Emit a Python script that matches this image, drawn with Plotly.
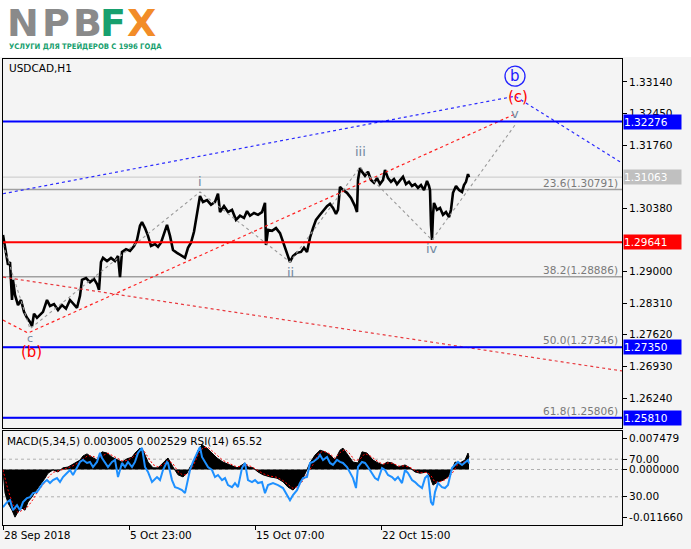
import plotly.graph_objects as go

# ---------------- data ----------------
price_bars = [0,1,3,5,7,9,10,12,15,18,21,24,27,29,31,34,37,40,44,47,51,55,59,63,67,71,74,77,79,83,87,91,94,96,98,100,104,108,112,115,117,119,123,127,131,134,137,139,142,145,148,152,155,158,161,164,167,170,174,178,182,185,188,191,194,197,200,204,208,212,215,217,221,225,229,233,237,241,244,247,251,255,259,262,263,265,269,273,277,281,284,287,290,294,298,301,304,307,310,313,317,321,324,327,330,333,335,337,340,344,348,352,354,355,357,359,362,365,368,371,374,377,380,382,385,388,391,394,397,400,403,406,409,412,415,418,421,424,426,427,428,429,430,431,434,437,440,443,446,448,450,453,456,459,461,463,465,466]
price_close = [1.2980,1.2963,1.2941,1.2915,1.2921,1.2838,1.2882,1.2849,1.2827,1.2838,1.2812,1.2799,1.2790,1.2781,1.2808,1.2799,1.2805,1.2812,1.2838,1.2825,1.2829,1.2816,1.2827,1.2819,1.2838,1.2829,1.2821,1.2847,1.2882,1.2886,1.2877,1.2884,1.2873,1.2860,1.2921,1.2930,1.2923,1.2930,1.2923,1.2934,1.2888,1.2943,1.2949,1.2945,1.2956,1.2969,1.3000,1.3008,1.2995,1.2978,1.2956,1.2960,1.2954,1.2963,1.2982,1.3002,1.2978,1.2947,1.2941,1.2936,1.2930,1.2952,1.2963,1.2987,1.3024,1.3065,1.3052,1.3056,1.3046,1.3052,1.3070,1.3030,1.3043,1.3030,1.3035,1.3013,1.3022,1.3017,1.3032,1.3022,1.3028,1.3024,1.3030,1.3050,1.2958,1.2991,1.2989,1.2995,1.2984,1.2960,1.2943,1.2921,1.2934,1.2941,1.2943,1.2952,1.2943,1.2974,1.2995,1.3013,1.3024,1.3035,1.3043,1.3048,1.3039,1.3026,1.3035,1.3085,1.3078,1.3072,1.3061,1.3043,1.3030,1.3100,1.3126,1.3118,1.3109,1.3118,1.3100,1.3094,1.3104,1.3091,1.3100,1.3122,1.3104,1.3096,1.3102,1.3091,1.3100,1.3107,1.3091,1.3096,1.3087,1.3091,1.3083,1.3089,1.3078,1.3098,1.3087,1.3078,1.3002,1.2969,1.3024,1.3050,1.3035,1.3039,1.3024,1.3030,1.3019,1.3035,1.3072,1.3087,1.3078,1.3074,1.3089,1.3096,1.3113,1.3106]
assert len(price_bars) == len(price_close)

price_ticks = [1.33140, 1.32450, 1.31760, 1.30380, 1.29000, 1.28310, 1.27620, 1.26930, 1.26240]

level_values = [1.32276, 1.29641, 1.27350, 1.25810]
level_colors = ["#0000ff", "#ff0000", "#0000ff", "#0000ff"]
bid_price = 1.31063

fib_names = ["23.6", "38.2", "50.0", "61.8"]
fib_values = [1.30791, 1.28886, 1.27346, 1.25806]

# wave paths
minor_bars = [0, 27, 197, 287, 357, 429, 512]
minor_prices = [1.2960, 1.2775, 1.3074, 1.2921, 1.3128, 1.2969, 1.3220]
minor_labels = ["", "c", "i", "ii", "iii", "iv", "v"]

inter_bars = [0, 25, 512]
inter_prices = [1.2794, 1.2766, 1.3244]
inter_labels = ["", "(b)", "(c)"]

trend_bars = [0, 619]
trend_prices = [1.2888, 1.2683]

major_bars = [0, 512, 619]
major_prices = [1.3070, 1.3283, 1.3137]
major_labels = ["", "b", ""]

# indicators
macd_bars = [0,2,5,9,12,15,19,22,25,29,32,35,39,42,45,50,55,60,65,69,72,77,80,84,89,94,99,104,109,114,119,124,129,132,137,140,145,150,155,160,165,170,175,180,184,187,192,195,199,204,209,214,220,227,234,239,242,245,250,255,260,267,274,280,285,290,295,300,304,307,312,317,322,327,332,337,340,345,350,355,359,364,370,375,380,384,389,395,402,407,412,417,424,427,430,435,440,445,449,452,457,462,465,466]
macd_vals = [-0.0001,-0.0057,-0.0082,-0.0099,-0.0116,-0.0103,-0.0094,-0.0099,-0.0079,-0.0067,
             -0.0055,-0.0045,-0.0033,-0.0021,-0.0009,-0.0001,-0.0006,0.0004,0.0006,0.0011,
             0.0016,0.0023,0.0033,0.0038,0.0030,0.0023,0.0043,0.0040,0.0030,0.0023,
             0.0018,0.0026,0.0030,0.0040,0.0052,0.0047,0.0018,0.0004,0.0004,0.0016,
             0.0028,0.0006,-0.0013,-0.0018,-0.0009,0.0006,0.0023,0.0047,0.0060,0.0052,
             0.0040,0.0028,0.0018,0.0011,0.0004,0.0011,0.0016,0.0006,0.0004,-0.0006,
             -0.0013,-0.0018,-0.0021,-0.0030,-0.0043,-0.0050,-0.0038,-0.0021,-0.0001,0.0016,
             0.0035,0.0047,0.0043,0.0035,0.0023,0.0047,0.0052,0.0035,0.0018,0.0016,
             0.0043,0.0040,0.0023,0.0016,0.0011,0.0018,0.0016,0.0006,0.0011,0.0004,
             -0.0006,-0.0009,-0.0006,-0.0018,-0.0038,-0.0030,-0.0026,-0.0018,-0.0001,0.0018,
             0.0016,0.0023,0.0040,0.0030]
assert len(macd_bars) == len(macd_vals)

signal_bars = [0,5,10,15,20,25,30,35,40,45,50,55,60,65,70,75,80,85,90,95,100,105,110,115,120,125,130,135,140,145,150,155,160,165,170,175,180,185,190,195,200,205,210,215,220,227,234,240,245,250,255,260,267,274,280,285,290,295,300,305,310,315,320,327,332,337,342,347,352,357,362,368,375,380,385,390,396,402,408,413,418,424,428,432,437,442,447,451,455,460,466]
signal_vals = [-0.0001,-0.0050,-0.0085,-0.0105,-0.0098,-0.0090,-0.0073,-0.0053,-0.0037,-0.0020,-0.0007,-0.0004,0.0000,0.0004,0.0009,0.0016,0.0026,0.0034,0.0032,0.0027,0.0034,0.0040,0.0033,0.0026,0.0020,0.0023,0.0030,0.0043,0.0049,0.0030,0.0012,0.0006,0.0012,0.0022,0.0014,-0.0005,-0.0014,-0.0011,0.0008,0.0035,0.0053,0.0054,0.0044,0.0032,0.0022,0.0014,0.0006,0.0009,0.0011,0.0005,-0.0003,-0.0010,-0.0016,-0.0019,-0.0027,-0.0037,-0.0046,-0.0041,-0.0027,-0.0007,0.0012,0.0037,0.0045,0.0038,0.0027,0.0041,0.0049,0.0038,0.0021,0.0025,0.0039,0.0032,0.0019,0.0013,0.0016,0.0015,0.0008,0.0009,0.0004,-0.0004,-0.0008,-0.0007,-0.0015,-0.0031,-0.0030,-0.0025,-0.0016,-0.0003,0.0014,0.0017,0.0025]
assert len(signal_bars) == len(signal_vals)

rsi_bars = [0,4,7,10,14,17,20,24,27,30,34,37,40,44,47,50,54,57,60,64,67,70,74,77,80,84,87,90,94,97,99,102,105,109,112,115,119,122,125,129,132,135,139,142,145,149,154,157,160,164,165,169,172,175,179,182,184,187,190,194,197,199,202,205,209,212,215,219,222,225,229,232,235,239,242,245,249,252,255,259,262,265,270,275,280,284,287,290,294,297,300,304,307,310,315,317,320,324,327,330,334,337,340,344,347,350,353,355,359,362,365,369,372,375,379,382,385,389,392,395,399,402,405,409,412,415,419,422,425,428,430,432,435,439,442,445,449,452,455,459,462,465,466]
rsi_vals = [18.9,24.3,26.4,15.7,21.1,15.7,24.3,28.6,29.6,33.9,35.0,39.3,44.6,47.8,44.6,47.8,49.9,45.7,51.0,55.3,58.5,53.2,61.7,67.1,69.2,66.0,67.1,61.7,67.1,76.7,71.3,66.0,61.7,67.1,69.2,51.0,66.0,61.7,67.1,61.7,67.1,76.7,82.0,61.7,56.4,45.7,51.0,47.8,58.5,67.1,66.0,47.8,40.3,39.3,37.1,33.9,44.6,58.5,67.1,76.7,83.1,72.4,67.1,61.7,58.5,51.0,53.2,47.8,49.9,42.5,40.3,44.6,40.3,60.6,66.0,47.8,45.7,47.8,44.6,45.7,33.9,42.5,44.6,42.5,39.3,31.8,26.4,31.8,37.1,44.6,49.9,51.0,66.0,67.1,71.3,74.5,69.2,72.4,66.0,63.9,69.2,67.1,66.0,61.7,56.4,49.9,39.3,61.7,67.1,66.0,61.7,55.3,49.9,47.8,60.6,58.5,53.2,51.0,47.8,51.0,44.6,58.5,55.3,47.8,45.7,42.5,39.3,49.9,53.2,24.3,21.1,35.0,44.6,40.3,39.3,42.5,60.6,63.9,67.1,63.9,67.1,69.2,65.52]
assert len(rsi_bars) == len(rsi_vals)

macd_ticks = [0.007479, 0.0, -0.011660]
rsi_levels = [70, 30]

date_bars = [0, 126, 252, 378]
date_labels = ["28 Sep 2018", "5 Oct 23:00", "15 Oct 07:00", "22 Oct 15:00"]

title_text = "USDCAD,H1"
ind_text = "MACD(5,34,5) 0.003005 0.002529 RSI(14) 65.52"

# ---------------- layout geometry (pixels) ----------------
W, H = 691, 549
ML, MR, MT, MB = 3, 69, 59, 24
PW, PH = W - ML - MR, H - MT - MB
main_bottom = (525 - 428) / PH
ind_top = (525 - 431) / PH
X_RANGE = [0, 619]
Y_RANGE = [1.25585, 1.33642]
MACD_RANGE = [-0.013504, 0.009367]


def px_x(px):
    return (px - ML) / PW


def px_y(py):
    return 1 - (py - MT) / PH


FONT = "DejaVu Sans"
AX_FS = 10.5

fig = go.Figure()

# price
fig.add_trace(go.Scatter(x=price_bars, y=price_close, mode="lines",
                         line=dict(color="black", width=2.6), xaxis="x", yaxis="y",
                         hoverinfo="skip"))
# wave lines
fig.add_trace(go.Scatter(x=major_bars, y=major_prices, mode="lines",
                         line=dict(color="#2a2aff", width=1.2, dash="3px,3px"),
                         xaxis="x", yaxis="y", hoverinfo="skip"))
fig.add_trace(go.Scatter(x=trend_bars, y=trend_prices, mode="lines",
                         line=dict(color="#e8383d", width=1.2, dash="3px,3px"),
                         xaxis="x", yaxis="y", hoverinfo="skip"))
fig.add_trace(go.Scatter(x=inter_bars, y=inter_prices, mode="lines",
                         line=dict(color="#ff2020", width=1.2, dash="3px,3px"),
                         xaxis="x", yaxis="y", hoverinfo="skip"))
fig.add_trace(go.Scatter(x=minor_bars, y=minor_prices, mode="lines",
                         line=dict(color="#999999", width=1.1, dash="3px,3px"),
                         xaxis="x", yaxis="y", hoverinfo="skip"))

# indicator panel
fig.add_trace(go.Scatter(x=macd_bars, y=macd_vals, mode="lines", fill="tozeroy",
                         fillcolor="black", line=dict(color="black", width=1),
                         xaxis="x2", yaxis="y3", hoverinfo="skip"))
fig.add_trace(go.Scatter(x=signal_bars, y=signal_vals, mode="lines",
                         line=dict(color="#ff0000", width=1, dash="2px,2px"),
                         xaxis="x2", yaxis="y3", hoverinfo="skip"))
fig.add_trace(go.Scatter(x=rsi_bars, y=rsi_vals, mode="lines",
                         line=dict(color="#1e90ff", width=2),
                         xaxis="x2", yaxis="y4", hoverinfo="skip"))

shapes = []
# white logo area
shapes.append(dict(type="rect", xref="paper", yref="paper", x0=px_x(-5), x1=px_x(700),
                   y0=px_y(57), y1=px_y(-5), fillcolor="white", line=dict(width=0), layer="below"))
# fib lines
for v in fib_values:
    shapes.append(dict(type="line", xref="x", yref="y", x0=X_RANGE[0], x1=X_RANGE[1], y0=v, y1=v,
                       line=dict(color="#a0a0a0", width=1.5), layer="below"))
# bid line
shapes.append(dict(type="line", xref="x", yref="y", x0=X_RANGE[0], x1=X_RANGE[1], y0=bid_price, y1=bid_price,
                   line=dict(color="#c8c8c8", width=1), layer="below"))
# level lines
for v, c in zip(level_values, level_colors):
    shapes.append(dict(type="line", xref="x", yref="y", x0=X_RANGE[0], x1=X_RANGE[1], y0=v, y1=v,
                       line=dict(color=c, width=2)))
# indicator levels
for v in rsi_levels:
    shapes.append(dict(type="line", xref="x2", yref="y4", x0=X_RANGE[0], x1=X_RANGE[1], y0=v, y1=v,
                       line=dict(color="#b0b0b0", width=1, dash="3px,3px"), layer="below"))
shapes.append(dict(type="line", xref="x2", yref="y3", x0=X_RANGE[0], x1=X_RANGE[1], y0=0, y1=0,
                   line=dict(color="#b0b0b0", width=1, dash="3px,3px"), layer="below"))
# circle around b
bi = major_labels.index("b")
shapes.append(dict(type="circle", xref="x", yref="y", xsizemode="pixel", ysizemode="pixel",
                   xanchor=major_bars[bi], yanchor=major_prices[bi], x0=-10, x1=10, y0=10, y1=30,
                   line=dict(color="#2020ff", width=1.3)))

ann = []
# logo
logo_letters = [("N", 23, "#8a8a8a"), ("P", 56, "#8a8a8a"), ("B", 87, "#8a8a8a"),
                ("F", 113, "#17a06e"), ("X", 141, "#f28c28")]
for ch, cx, col in logo_letters:
    ann.append(dict(xref="paper", yref="paper", x=px_x(cx), y=px_y(23), text=ch, showarrow=False,
                    xanchor="center", yanchor="middle",
                    font=dict(family="DejaVu Sans", size=38, color=col, weight="bold")))
ann.append(dict(xref="paper", yref="paper", x=px_x(7), y=px_y(46),
                text="УСЛУГИ ДЛЯ ТРЕЙДЕРОВ С 1996 ГОДА", showarrow=False,
                xanchor="left", yanchor="middle",
                font=dict(family="DejaVu Sans Condensed, DejaVu Sans", size=7.6,
                          color="#17a06e", weight="bold")))
# titles
ann.append(dict(xref="paper", yref="paper", x=px_x(7), y=px_y(68), text=title_text, showarrow=False,
                xanchor="left", yanchor="middle", font=dict(family=FONT, size=AX_FS, color="black")))
ann.append(dict(xref="paper", yref="paper", x=px_x(5), y=px_y(441), text=ind_text, showarrow=False,
                xanchor="left", yanchor="middle", font=dict(family=FONT, size=AX_FS, color="black")))
# fib labels
for n, v in zip(fib_names, fib_values):
    ann.append(dict(xref="paper", yref="y", x=px_x(620), y=v, text=f"{n}({v:.5f})", showarrow=False,
                    xanchor="right", yanchor="bottom", yshift=-1,
                    font=dict(family=FONT, size=AX_FS, color="#7a7a7a")))
# right price boxes
for v, c in list(zip(level_values, level_colors)) + [(bid_price, "#c0c0c0")]:
    ann.append(dict(xref="paper", yref="y", x=px_x(623), y=v, text=f"{v:.5f}", showarrow=False,
                    xanchor="left", yanchor="middle", bgcolor=c, borderpad=0, width=57, height=14,
                    align="left", font=dict(family=FONT, size=AX_FS, color="white")))
# wave labels
minor_shift = {"c": -10, "i": 10, "ii": -11, "iii": 16, "iv": -8, "v": 12}
for b, p, t in zip(minor_bars, minor_prices, minor_labels):
    if t:
        ann.append(dict(xref="x", yref="y", x=b, y=p, text=t, showarrow=False, yshift=minor_shift[t],
                        font=dict(family=FONT, size=13 if t != "c" else 11, color="#7088a0")))
inter_shift = {"(b)": -19, "(c)": 17}
for b, p, t in zip(inter_bars, inter_prices, inter_labels):
    if t:
        ann.append(dict(xref="x", yref="y", x=b + 3, y=p, text=t, showarrow=False, yshift=inter_shift[t],
                        font=dict(family=FONT, size=15, color="#ff0000")))
ann.append(dict(xref="x", yref="y", x=major_bars[bi], y=major_prices[bi], text="b", showarrow=False,
                yshift=20, font=dict(family=FONT, size=15, color="#2020ff")))

axis_common = dict(showgrid=False, zeroline=False, showline=True, mirror=True, linecolor="black",
                   linewidth=1, tickcolor="black", tickfont=dict(family=FONT, size=AX_FS, color="black"))

fig.update_layout(
    width=W, height=H, margin=dict(l=ML, r=MR, t=MT, b=MB),
    paper_bgcolor="#f4f4f4", plot_bgcolor="#f4f4f4",
    font=dict(family=FONT, size=AX_FS, color="black"),
    showlegend=False, hovermode=False,
    xaxis=dict(domain=[0, 1], anchor="y", range=X_RANGE, showticklabels=False, ticks="", **axis_common),
    yaxis=dict(domain=[main_bottom, 1], anchor="x", side="right", range=Y_RANGE,
               tickvals=price_ticks, ticktext=[f"{v:.5f}" for v in price_ticks],
               ticks="outside", ticklen=4, **axis_common),
    xaxis2=dict(domain=[0, 1], anchor="y3", range=X_RANGE, tickvals=date_bars, ticktext=date_labels,
                ticks="outside", ticklen=4, ticklabelposition="outside right", **axis_common),
    yaxis3=dict(domain=[0, ind_top], anchor="x2", side="right", range=MACD_RANGE,
                tickvals=macd_ticks, ticktext=[f"{v:.6f}" for v in macd_ticks],
                ticks="outside", ticklen=4, **axis_common),
    yaxis4=dict(overlaying="y3", anchor="x2", side="right", range=[0, 100],
                tickvals=rsi_levels, ticktext=[f"{v:.2f}" for v in rsi_levels],
                ticks="outside", ticklen=4, showgrid=False, zeroline=False, showline=False,
                tickcolor="black", tickfont=dict(family=FONT, size=AX_FS, color="black")),
    shapes=shapes, annotations=ann,
)

fig.write_html("out.html", config={"displayModeBar": False},
               post_script="document.body.style.margin='0px';document.body.style.padding='0px';")
